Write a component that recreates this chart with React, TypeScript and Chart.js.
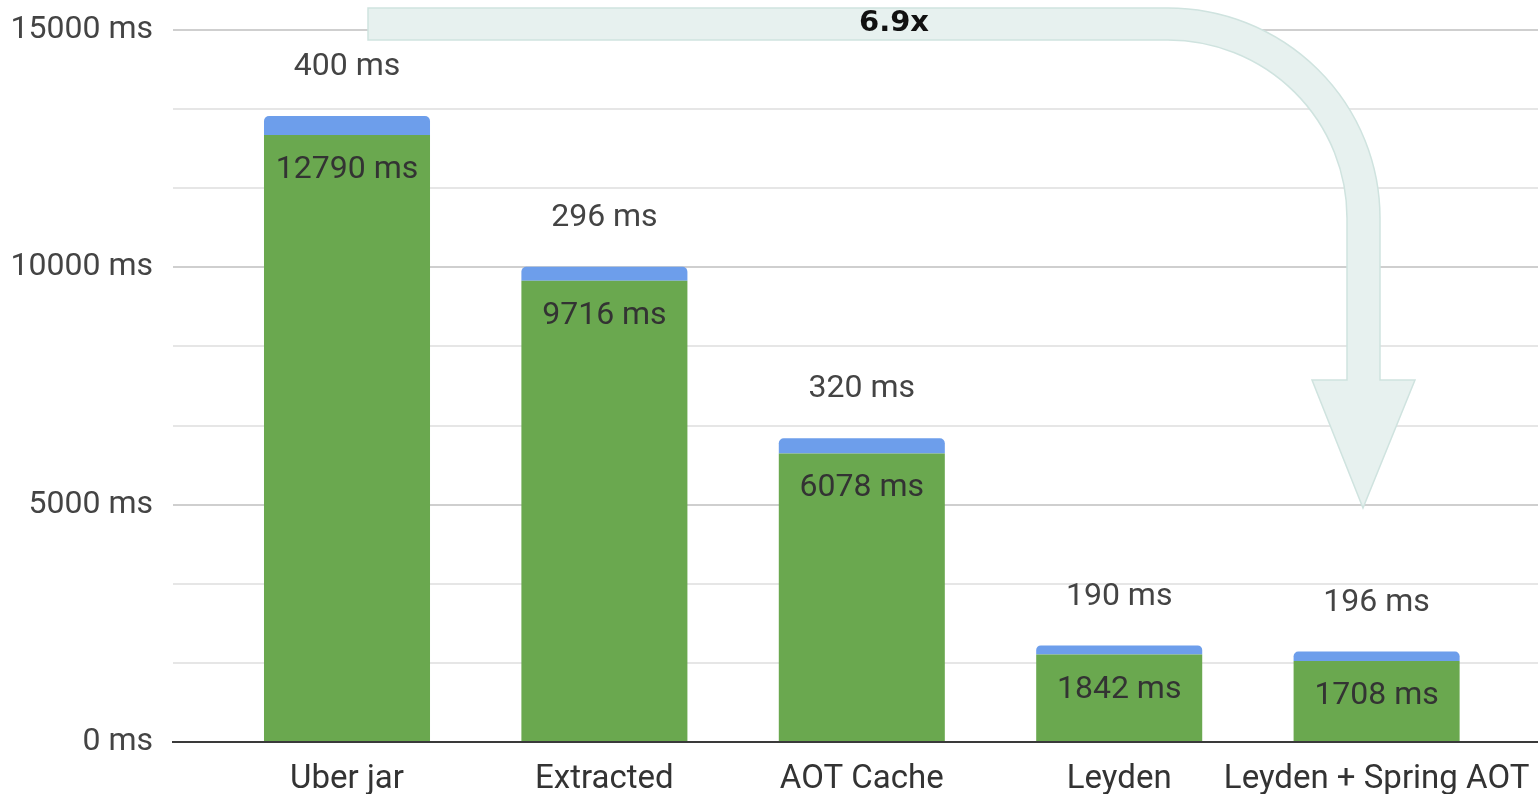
import React, { useEffect, useRef } from "react";
import { Chart, registerables } from "chart.js";

Chart.register(...registerables);

// Startup time breakdown per deployment variant (ms)
const categories = ["Uber jar", "Extracted", "AOT Cache", "Leyden", "Leyden + Spring AOT"];
const mainTimes = [12790, 9716, 6078, 1842, 1708];
const extraTimes = [400, 296, 320, 190, 196];
const yTickValues = [0, 5000 / 3, 10000 / 3, 5000, 20000 / 3, 25000 / 3, 10000, 35000 / 3, 40000 / 3, 15000];
const speedupLabel = "6.9x";

const GREEN = "#6aa84f";
const BLUE = "#6d9eeb";
const FONT = "Roboto, 'Noto Sans', sans-serif";

// Value labels: extra time above each stack, main time inside the green bar
const valueLabels = {
  id: "valueLabels",
  afterDatasetsDraw(chart: any) {
    const ctx = chart.ctx;
    const greenMeta = chart.getDatasetMeta(0);
    const blueMeta = chart.getDatasetMeta(1);
    ctx.save();
    ctx.font = `32px ${FONT}`;
    ctx.textAlign = "center";
    ctx.textBaseline = "middle";
    categories.forEach((_, i) => {
      const g = greenMeta.data[i];
      const b = blueMeta.data[i];
      ctx.fillStyle = "#444444";
      ctx.fillText(`${extraTimes[i]} ms`, b.x, b.y - 49);
      ctx.fillStyle = "#333333";
      ctx.fillText(`${mainTimes[i]} ms`, g.x, g.y + 35);
    });
    ctx.restore();
  },
};

// Curved arrow from the first bar's level down to the last variant, with the speedup factor
const speedupArrow = {
  id: "speedupArrow",
  afterDatasetsDraw(chart: any) {
    const ctx = chart.ctx;
    const cx = 1168;
    const cy = 218;
    ctx.save();
    ctx.beginPath();
    ctx.moveTo(368, 8);
    ctx.lineTo(cx, 8);
    ctx.ellipse(cx, cy, 212, 210, 0, -Math.PI / 2, 0, false);
    ctx.lineTo(1380, 380);
    ctx.lineTo(1415, 380);
    ctx.lineTo(1363, 508);
    ctx.lineTo(1312, 380);
    ctx.lineTo(1347, 380);
    ctx.lineTo(1347, cy);
    ctx.ellipse(cx, cy, 179, 178, 0, 0, -Math.PI / 2, true);
    ctx.lineTo(368, 40);
    ctx.closePath();
    ctx.fillStyle = "#e7f1ef";
    ctx.fill();
    ctx.strokeStyle = "#cfe3df";
    ctx.lineWidth = 1.5;
    ctx.stroke();

    ctx.font = "bold 29px 'DejaVu Sans', sans-serif";
    ctx.fillStyle = "#111111";
    ctx.textAlign = "center";
    ctx.textBaseline = "middle";
    ctx.fillText(speedupLabel, 894, 23);
    ctx.restore();
  },
};

export default function App() {
  const canvasRef = useRef<HTMLCanvasElement | null>(null);

  useEffect(() => {
    document.body.style.margin = "0";
    const canvas = canvasRef.current;
    if (!canvas) return;

    const chart = new Chart(canvas, {
      type: "bar",
      data: {
        datasets: [
          {
            label: "Startup",
            data: mainTimes.map((v, i) => ({ x: i, y: v })),
            backgroundColor: GREEN,
            borderWidth: 0,
            categoryPercentage: 1,
            barPercentage: 0.645,
          },
          {
            label: "Extra",
            data: extraTimes.map((v, i) => ({ x: i, y: v })),
            backgroundColor: BLUE,
            borderWidth: 0,
            borderRadius: { topLeft: 5, topRight: 5, bottomLeft: 0, bottomRight: 0 },
            borderSkipped: false,
            categoryPercentage: 1,
            barPercentage: 0.645,
          },
        ],
      },
      plugins: [speedupArrow, valueLabels],
      options: {
        animation: false,
        responsive: false,
        maintainAspectRatio: false,
        layout: { padding: { top: 30, right: 0, left: 0, bottom: 0 } },
        plugins: {
          legend: { display: false },
          tooltip: { enabled: false },
        },
        scales: {
          x: {
            type: "linear",
            stacked: true,
            offset: false,
            min: -0.676,
            max: 4.627,
            afterBuildTicks: (scale: any) => {
              scale.ticks = categories.map((_, i) => ({ value: i }));
            },
            afterFit: (scale: any) => {
              scale.height = 52;
              scale.paddingLeft = 0;
              scale.paddingRight = 0;
            },
            grid: { display: false, drawTicks: false, offset: false },
            border: { display: true, color: "#3a3a3a", width: 2 },
            ticks: {
              autoSkip: false,
              maxRotation: 0,
              padding: 18,
              color: "#333333",
              font: { family: FONT, size: 33 },
              callback: (v: any) => categories[Math.round(Number(v))] ?? "",
            },
          },
          y: {
            type: "linear",
            stacked: true,
            min: 0,
            max: 15000,
            afterBuildTicks: (scale: any) => {
              scale.ticks = yTickValues.map((v) => ({ value: v }));
            },
            afterFit: (scale: any) => {
              scale.width = 173;
              scale.paddingTop = 0;
              scale.paddingBottom = 0;
            },
            border: { display: false },
            grid: {
              drawTicks: false,
              lineWidth: 2,
              color: (c: any) => {
                const v = Math.round(c.tick.value);
                if (v === 0) return "rgba(0,0,0,0)";
                return v % 5000 === 0 ? "#cfcfcf" : "#e6e6e6";
              },
            },
            ticks: {
              padding: 20,
              color: "#444444",
              font: { family: FONT, size: 32 },
              callback: (v: any) => {
                const r = Math.round(Number(v));
                return r % 5000 === 0 ? `${r} ms` : "";
              },
            },
          },
        },
      },
    } as any);

    return () => chart.destroy();
  }, []);

  return (
    <div style={{ width: 1538, height: 794, background: "#ffffff" }}>
      <canvas ref={canvasRef} width={1538} height={794} style={{ display: "block" }} />
    </div>
  );
}
